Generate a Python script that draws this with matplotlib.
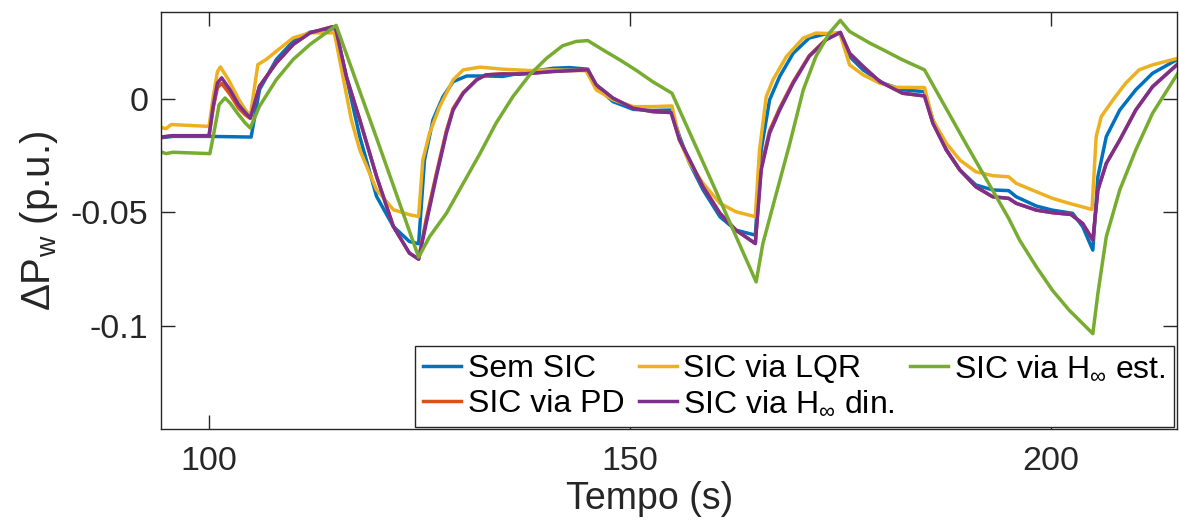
import matplotlib
matplotlib.use('Agg')
import matplotlib.pyplot as plt

# values
t_sem = [94.1, 95.7, 100.0, 105.0, 106.0, 108.0, 110.0, 112.0, 114.7, 115.0, 116.3, 117.9, 119.9, 121.9, 123.8, 124.9,
         125.6, 126.6, 127.8, 129.0, 130.6, 132.9, 134.9, 136.9, 140.9, 142.8, 145.0, 146.0, 148.0, 150.4, 152.7, 154.9,
         155.9, 157.1, 158.7, 160.7, 162.6, 164.9, 165.6, 166.6, 167.8, 169.4, 171.3, 173.3, 175.0, 176.1, 177.7, 180.1, 182.4, 185.0,
         186.0, 187.6, 189.2, 191.1, 193.1, 195.0, 195.9, 198.3, 200.2, 202.6, 203.8, 205.0, 205.6, 206.6, 208.2, 210.1, 212.1, 215.1]
p_sem = [-0.0172, -0.0165, -0.0165, -0.0168, 0.0041, 0.0174, 0.0254, 0.0294, 0.0309, 0.0310, 0.0100, -0.0165, -0.0429, -0.0562, -0.0628, -0.0638,
         -0.0269, -0.0093, 0.0010, 0.0076, 0.0101, 0.0101, 0.0099, 0.0113, 0.0135, 0.0138, 0.0131, 0.0054, -0.0012, -0.0046, -0.0051, -0.0049,
         -0.0166, -0.0284, -0.0401, -0.0519, -0.0578, -0.0600, -0.0225, -0.0004, 0.0099, 0.0201, 0.0268, 0.0287, 0.0290, 0.0187, 0.0128, 0.0069, 0.0040, 0.0032,
         -0.0093, -0.0225, -0.0313, -0.0379, -0.0401, -0.0404, -0.0431, -0.0472, -0.0490, -0.0504, -0.0563, -0.0666, -0.0343, -0.0166, -0.0049, 0.0040, 0.0113, 0.0175]

t_pd = [94.1, 95.7, 100.0, 100.5, 101.0, 101.5, 102.5, 103.5, 104.3, 104.9, 106.0, 108.0, 110.0, 112.0, 114.7, 115.0, 116.3, 117.9, 119.9, 121.9, 123.8, 124.9,
        125.8, 127.0, 128.2, 129.0, 130.2, 131.8, 132.9, 134.9, 136.9, 140.9, 145.0, 146.0, 148.0, 150.4, 152.7, 154.9,
        155.9, 157.1, 158.7, 160.7, 162.6, 164.9, 165.6, 166.6, 167.8, 169.4, 171.3, 173.3, 175.0, 176.1, 177.7, 179.7, 182.4, 185.0,
        186.0, 187.6, 189.2, 191.1, 193.1, 195.0, 195.9, 198.3, 200.2, 202.4, 203.8, 205.0, 205.6, 206.6, 208.2, 210.1, 212.1, 215.1]
p_pd = [-0.0169, -0.0162, -0.0162, -0.0040, 0.0050, 0.0068, 0.0020, -0.0040, -0.0070, -0.0086, 0.0056, 0.0159, 0.0240, 0.0291, 0.0318, 0.0318, 0.0100, -0.0091, -0.0341, -0.0562, -0.0679, -0.0706,
        -0.0530, -0.0330, -0.0140, -0.0042, 0.0028, 0.0085, 0.0106, 0.0110, 0.0109, 0.0121, 0.0128, 0.0062, 0.0003, -0.0041, -0.0056, -0.0060,
        -0.0181, -0.0269, -0.0387, -0.0504, -0.0578, -0.0637, -0.0300, -0.0140, -0.0040, 0.0075, 0.0190, 0.0262, 0.0293, 0.0201, 0.0143, 0.0076, 0.0025, 0.0013,
        -0.0107, -0.0225, -0.0313, -0.0387, -0.0431, -0.0438, -0.0460, -0.0490, -0.0501, -0.0509, -0.0549, -0.0622, -0.0401, -0.0284, -0.0181, -0.0049, 0.0054, 0.0154]

t_lqr = [94.1, 94.9, 95.5, 100.0, 100.5, 101.0, 101.35, 102.3, 103.5, 104.3, 104.9, 105.8, 106.8, 108.0, 110.0, 112.0, 114.9, 115.9, 116.9, 117.9, 119.9, 121.9, 123.8, 124.9,
         125.4, 126.2, 127.4, 129.0, 130.2, 132.2, 134.9, 138.1, 140.9, 144.8, 146.0, 148.0, 150.4, 152.7, 155.0,
         155.9, 157.1, 158.7, 160.7, 162.6, 164.9, 165.4, 166.2, 167.0, 168.6, 170.6, 172.1, 174.5, 175.0, 176.1, 177.7, 179.7, 181.6, 185.0,
         186.0, 187.6, 189.2, 191.1, 193.1, 195.0, 195.9, 198.3, 200.2, 202.2, 204.9, 205.4, 206.0, 207.4, 208.9, 210.5, 212.1, 215.1]
p_lqr = [-0.0124, -0.0131, -0.0113, -0.0121, 0.0010, 0.0120, 0.0141, 0.0085, 0.0000, -0.0047, -0.0076, 0.0151, 0.0174, 0.0210, 0.0269, 0.0291, 0.0291, 0.0100, -0.0091, -0.0224, -0.0400, -0.0488, -0.0510, -0.0518,
         -0.0269, -0.0151, -0.0034, 0.0084, 0.0128, 0.0140, 0.0131, 0.0125, 0.0128, 0.0124, 0.0040, -0.0004, -0.0034, -0.0034, -0.0031,
         -0.0181, -0.0284, -0.0372, -0.0460, -0.0497, -0.0519, -0.0225, 0.0010, 0.0084, 0.0187, 0.0268, 0.0290, 0.0287, 0.0282, 0.0150, 0.0106, 0.0069, 0.0051, 0.0050,
         -0.0093, -0.0196, -0.0269, -0.0321, -0.0338, -0.0343, -0.0372, -0.0409, -0.0438, -0.0460, -0.0487, -0.0166, -0.0078, -0.0004, 0.0069, 0.0128, 0.0150, 0.0179]

t_hdin = [94.1, 95.7, 100.0, 100.5, 101.0, 101.5, 102.5, 103.5, 104.3, 104.9, 106.0, 108.0, 110.0, 112.0, 114.7, 115.0, 116.3, 117.9, 119.9, 121.9, 123.8, 124.9,
          125.8, 127.0, 128.2, 129.0, 130.2, 131.8, 132.9, 134.9, 136.9, 140.9, 145.0, 146.0, 148.0, 150.4, 152.7, 154.9,
          155.9, 157.1, 158.7, 160.7, 162.6, 164.9, 165.6, 166.6, 167.8, 169.4, 171.3, 173.3, 175.0, 176.1, 177.7, 179.7, 182.4, 185.0,
          186.0, 187.6, 189.2, 191.1, 193.1, 195.0, 195.9, 198.3, 200.2, 202.4, 203.8, 205.0, 205.6, 206.6, 208.2, 210.1, 212.1, 215.1]
p_hdin = [-0.0169, -0.0162, -0.0162, -0.0030, 0.0070, 0.0093, 0.0040, -0.0025, -0.0060, -0.0084, 0.0056, 0.0159, 0.0240, 0.0291, 0.0318, 0.0318, 0.0100, -0.0091, -0.0341, -0.0562, -0.0679, -0.0706,
          -0.0549, -0.0343, -0.0151, -0.0049, 0.0025, 0.0084, 0.0106, 0.0110, 0.0109, 0.0121, 0.0128, 0.0062, 0.0003, -0.0041, -0.0056, -0.0060,
          -0.0181, -0.0269, -0.0387, -0.0504, -0.0578, -0.0637, -0.0313, -0.0151, -0.0049, 0.0069, 0.0187, 0.0260, 0.0293, 0.0201, 0.0143, 0.0076, 0.0025, 0.0013,
          -0.0107, -0.0225, -0.0313, -0.0387, -0.0431, -0.0438, -0.0460, -0.0490, -0.0501, -0.0509, -0.0549, -0.0622, -0.0401, -0.0284, -0.0181, -0.0049, 0.0054, 0.0154]

t_hest = [94.1, 94.9, 95.7, 100.1, 100.5, 101.2, 101.9, 102.5, 103.5, 104.3, 104.9, 106.0, 108.0, 110.0, 112.0, 113.9, 115.1, 119.9, 124.9,
          126.2, 128.2, 130.2, 132.2, 134.1, 136.1, 138.1, 140.1, 142.0, 143.6, 145.0, 146.8, 148.8, 150.8, 152.7, 155.0,
          160.3, 165.0, 165.8, 167.4, 169.0, 170.6, 172.1, 173.7, 175.0, 176.1, 178.5, 180.1, 182.4, 185.0,
          189.9, 195.0, 196.3, 198.3, 200.2, 202.2, 205.0, 205.6, 206.6, 208.2, 210.1, 212.1, 215.1]
p_hest = [-0.0231, -0.0241, -0.0235, -0.0241, -0.0165, -0.0025, 0.0004, -0.0018, -0.0069, -0.0106, -0.0128, -0.0032, 0.0085, 0.0174, 0.0240, 0.0291, 0.0324, -0.0172, -0.0697,
          -0.0607, -0.0504, -0.0372, -0.0240, -0.0107, 0.0010, 0.0106, 0.0179, 0.0234, 0.0253, 0.0257, 0.0216, 0.0172, 0.0125, 0.0076, 0.0025,
          -0.0412, -0.0806, -0.0637, -0.0416, -0.0196, 0.0040, 0.0187, 0.0290, 0.0346, 0.0297, 0.0246, 0.0216, 0.0172, 0.0128,
          -0.0196, -0.0526, -0.0622, -0.0740, -0.0843, -0.0931, -0.1034, -0.0857, -0.0607, -0.0401, -0.0225, -0.0063, 0.0113]

labels = ['Sem SIC', 'SIC via PD', 'SIC via LQR', r'SIC via H$_{\infty}$ din.', r'SIC via H$_{\infty}$ est.']
colors = ['#0072BD', '#D95319', '#EDB120', '#7E2F8E', '#77AC30']
xticks = [100, 150, 200]
yticks = [-0.1, -0.05, 0]
ytick_labels = ['-0.1', '-0.05', '0']

plt.rcParams['font.family'] = ['Liberation Sans', 'DejaVu Sans']
plt.rcParams['mathtext.fontset'] = 'custom'
plt.rcParams['mathtext.rm'] = 'Liberation Sans'
plt.rcParams['mathtext.it'] = 'Liberation Sans'

fig = plt.figure(figsize=(11.79, 5.2), dpi=100)
ax = fig.add_axes([0.1366, 0.175, 0.8617, 0.802])

series = [(t_sem, p_sem), (t_pd, p_pd), (t_lqr, p_lqr), (t_hdin, p_hdin), (t_hest, p_hest)]
for (t, p), lab, c in zip(series, labels, colors):
    ax.plot(t, p, color=c, lw=2.5, label=lab, solid_joinstyle='round')

ax.set_xlim(94.3, 215.0)
ax.set_ylim(-0.1454, 0.0383)
ax.set_xticks(xticks)
ax.set_yticks(yticks)
ax.set_yticklabels(ytick_labels)

dark = '#262626'
for s in ax.spines.values():
    s.set_color(dark)
    s.set_linewidth(1.0)
ax.tick_params(direction='in', length=10, width=1.0, top=True, right=True,
               labelsize=24.5, colors=dark)
ax.tick_params(axis='x', pad=12)
ax.tick_params(axis='y', pad=9)
ax.set_xlabel('Tempo (s)', fontsize=27, color=dark)
ax.xaxis.set_label_coords(0.481, -0.125)
ax.set_ylabel(r'$\Delta$P$_{\rm w}$ (p.u.)', fontsize=29, color=dark, labelpad=8)

leg = ax.legend(loc='lower right', bbox_to_anchor=(0.997, 0.005), ncol=3, fontsize=23,
                frameon=True, fancybox=False, framealpha=1, edgecolor=dark,
                handlelength=1.2, handletextpad=0.2, columnspacing=0.45,
                labelspacing=0.15, borderpad=0.25, borderaxespad=0)
leg.get_frame().set_linewidth(1.0)

fig.savefig('out.png', dpi=100)
